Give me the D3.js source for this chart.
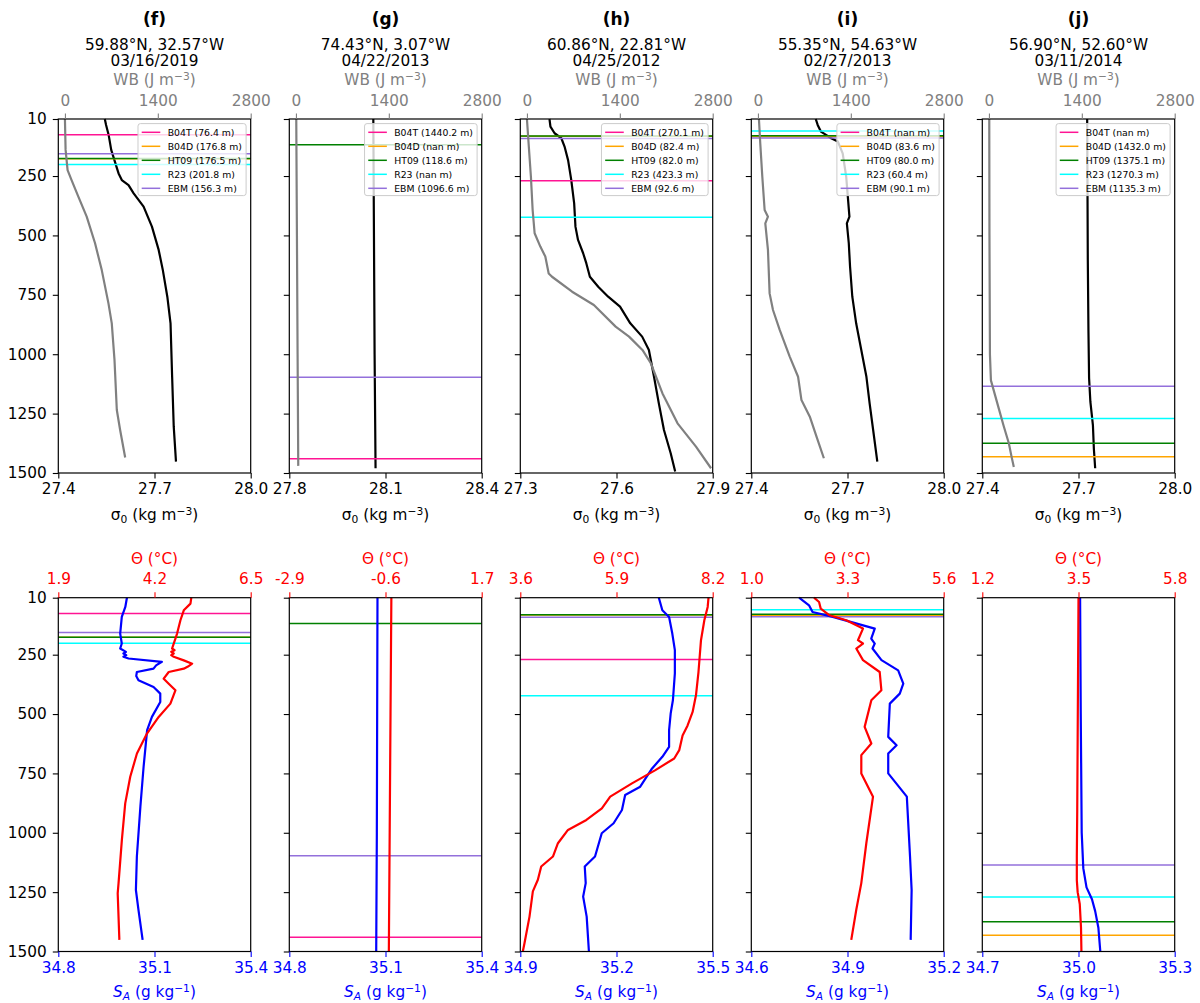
<!DOCTYPE html>
<html>
<head>
<meta charset="utf-8">
<script src="https://cdn.jsdelivr.net/npm/d3@7"></script>
<style>
  body { margin: 0; background: #fff; }
  svg { display: block; }
</style>
</head>
<body>
<script>
// ---- data ----
const panelTags = ["(f)", "(g)", "(h)", "(i)", "(j)"];
const locations = ["59.88°N, 32.57°W", "74.43°N, 3.07°W", "60.86°N, 22.81°W", "55.35°N, 54.63°W", "56.90°N, 52.60°W"];
const dates = ["03/16/2019", "04/22/2013", "04/25/2012", "02/27/2013", "03/11/2014"];

const sigmaLims = [[27.4, 28.0], [27.8, 28.4], [27.3, 27.9], [27.4, 28.0], [27.4, 28.0]];
const thetaLims = [[1.9, 6.5], [-2.9, 1.7], [3.6, 8.2], [1.0, 5.6], [1.2, 5.8]];
const saLims = [[34.8, 35.4], [34.8, 35.4], [34.9, 35.5], [34.6, 35.2], [34.7, 35.3]];
const wbLims = [-100, 2800];
const wbTicks = [0, 1400, 2800];
const depthTicks = [10, 250, 500, 750, 1000, 1250, 1500];

const mldMethods = ["B04T", "B04D", "HT09", "R23", "EBM"];
const mldColors = ["#ff1493", "#ffa500", "#008000", "#00ffff", "#9370db"];
// null = nan
const mldDepths = [
  [76.4, 176.8, 176.5, 201.8, 156.3],
  [1440.2, null, 118.6, null, 1096.6],
  [270.1, 82.4, 82.0, 423.3, 92.6],
  [null, 83.6, 80.0, 60.4, 90.1],
  [null, 1432.0, 1375.1, 1270.3, 1135.3]
];

// profiles: [depth (m), value]
const sigmaF = [[10,27.545],[35,27.549],[77,27.557],[140,27.565],[183,27.575],[218,27.583],[239,27.588],[267,27.598],[288,27.619],[323,27.635],[379,27.666],[463,27.692],[561,27.713],[646,27.726],[758,27.740],[870,27.750],[1095,27.755],[1305,27.760],[1452,27.767]];
const sigmaG = [[10,28.062],[500,28.064],[1000,28.066],[1480,28.069]];
const sigmaH = [[10,27.391],[42,27.394],[70,27.407],[91,27.428],[126,27.438],[183,27.449],[267,27.459],[365,27.468],[463,27.472],[519,27.480],[575,27.496],[618,27.506],[674,27.517],[716,27.543],[758,27.574],[800,27.611],[870,27.643],[926,27.680],[982,27.701],[1095,27.717],[1207,27.732],[1319,27.748],[1417,27.769],[1494,27.783]];
const sigmaI = [[10,27.601],[35,27.607],[63,27.617],[77,27.633],[91,27.649],[105,27.670],[155,27.685],[253,27.696],[337,27.701],[421,27.706],[449,27.698],[533,27.704],[632,27.708],[758,27.715],[870,27.727],[982,27.743],[1095,27.759],[1207,27.769],[1319,27.780],[1452,27.793]];
const sigmaJ = [[10,27.727],[300,27.728],[600,27.729],[900,27.731],[1100,27.733],[1200,27.737],[1300,27.745],[1400,27.748],[1480,27.752]];

const wbF = [[10,0],[140,10],[225,40],[267,100],[337,202],[421,328],[533,454],[646,555],[786,656],[870,706],[1024,747],[1235,782],[1319,832],[1435,908]];
const wbG = [[10,5],[500,15],[1000,25],[1470,35]];
const wbH = [[10,0],[112,25],[253,60],[393,86],[491,116],[547,202],[589,277],[660,328],[674,378],[737,681],[793,1009],[884,1337],[926,1539],[982,1741],[1038,1867],[1165,2043],[1291,2270],[1389,2548],[1480,2775]];
const wbI = [[10,15],[112,35],[253,66],[393,101],[421,151],[449,111],[561,151],[744,176],[814,227],[898,328],[1010,479],[1095,605],[1193,656],[1263,782],[1347,883],[1438,994]];
const wbJ = [[10,5],[500,8],[1000,15],[1110,30],[1230,150],[1300,220],[1375,300],[1430,340],[1475,375]];

const thetaF = [[10,5.08],[35,5.06],[63,4.90],[105,4.82],[161,4.74],[203,4.66],[224,4.62],[231,4.68],[238,4.60],[245,4.66],[252,4.60],[259,4.66],[274,4.90],[288,5.10],[300,5.00],[309,4.90],[323,4.54],[351,4.42],[372,4.54],[400,4.70],[456,4.58],[512,4.30],[582,4.02],[666,3.78],[764,3.62],[876,3.50],[1030,3.42],[1213,3.34],[1255,3.32],[1451,3.36]];
const saF = [[10,35.014],[49,35.009],[91,34.998],[161,34.993],[203,34.998],[224,34.993],[238,35.011],[245,35.003],[252,35.012],[259,35.003],[266,35.019],[280,35.123],[295,35.105],[309,35.097],[323,35.045],[340,35.043],[358,35.050],[386,35.097],[414,35.118],[449,35.118],[512,35.092],[568,35.077],[722,35.066],[890,35.056],[1100,35.045],[1241,35.042],[1325,35.050],[1451,35.063]];
const thetaG = [[10,-0.46],[500,-0.48],[1000,-0.50],[1500,-0.52]];
const saG = [[10,35.075],[500,35.074],[1000,35.073],[1500,35.071]];
const thetaH = [[10,8.10],[49,8.08],[105,8.00],[189,7.92],[323,7.86],[421,7.80],[491,7.72],[548,7.60],[590,7.48],[652,7.40],[687,7.28],[736,6.83],[792,6.27],[848,5.75],[897,5.55],[946,5.18],[988,4.74],[1044,4.50],[1100,4.38],[1142,4.10],[1198,4.02],[1247,3.90],[1353,3.82],[1465,3.70],[1500,3.66]];
const saH = [[10,35.332],[63,35.343],[91,35.364],[161,35.374],[231,35.382],[329,35.382],[441,35.376],[497,35.369],[568,35.364],[638,35.364],[680,35.343],[729,35.311],[806,35.274],[841,35.227],[904,35.217],[960,35.191],[1002,35.154],[1100,35.133],[1142,35.101],[1212,35.104],[1269,35.096],[1353,35.107],[1500,35.114]];
const thetaI = [[10,2.50],[28,2.62],[56,2.66],[84,2.87],[105,3.27],[140,3.67],[189,3.55],[203,3.67],[224,3.51],[273,3.67],[323,4.07],[400,4.11],[442,3.87],[554,3.71],[624,3.87],[673,3.63],[750,3.63],[848,3.91],[1044,3.75],[1212,3.63],[1324,3.51],[1451,3.39]];
const saI = [[10,34.749],[42,34.780],[70,34.791],[91,34.854],[140,34.985],[182,34.974],[203,34.985],[224,34.978],[273,35.006],[316,35.058],[372,35.074],[414,35.063],[456,35.032],[596,35.027],[631,35.053],[666,35.027],[750,35.027],[848,35.085],[1100,35.095],[1241,35.100],[1451,35.097]];
const thetaJ = [[10,3.50],[300,3.49],[600,3.48],[900,3.47],[1100,3.46],[1200,3.46],[1250,3.48],[1300,3.53],[1400,3.56],[1500,3.57]];
const saJ = [[10,35.005],[500,35.007],[1000,35.010],[1150,35.015],[1230,35.025],[1280,35.042],[1330,35.052],[1400,35.062],[1500,35.068]];

const sigmaProfiles = [sigmaF, sigmaG, sigmaH, sigmaI, sigmaJ];
const wbProfiles = [wbF, wbG, wbH, wbI, wbJ];
const thetaProfiles = [thetaF, thetaG, thetaH, thetaI, thetaJ];
const saProfiles = [saF, saG, saH, saI, saJ];

// ---- layout ----
const FONT = "'DejaVu Sans', 'Liberation Sans', sans-serif";
const FS = 15.3;
const colX = [58.3, 289.3, 520.3, 751.3, 982.3];
const pw = 192.4;
const rowTop = [119, 597.7];
const rowBottom = [473, 951.5];
const TICK = 5.5;

const svg = d3.select("body").append("svg")
  .attr("width", 1200).attr("height", 1003)
  .style("font-family", FONT);

const fmt1 = v => v.toFixed(1);

function rich(sel, parts, size) {
  let shift = 0;
  parts.forEach(p => {
    const target = p.s === "sup" ? -0.33 * size : p.s === "sub" ? 0.2 * size : 0;
    const ts = sel.append("tspan").attr("dy", target - shift).text(p.t);
    if (p.s) ts.attr("font-size", size * 0.7);
    if (p.i) ts.attr("font-style", "italic");
    shift = target;
  });
}

function styleAxis(g, color) {
  g.attr("font-family", FONT).attr("font-size", FS);
  g.select(".domain").remove();
  g.selectAll(".tick line").attr("stroke", color).attr("stroke-width", 1.1);
  g.selectAll(".tick text").attr("fill", color);
}

function drawMLD(g, i, x0, x1, y) {
  mldDepths[i].forEach((d, k) => {
    if (d == null) return;
    g.append("line")
      .attr("x1", x0).attr("x2", x1)
      .attr("y1", y(d)).attr("y2", y(d))
      .attr("stroke", mldColors[k]).attr("stroke-width", 1.5);
  });
}

function drawLegend(g, i, x1, top) {
  const fs = 9.3;
  const lg = g.append("g");
  const box = lg.append("rect");
  let maxW = 0;
  mldMethods.forEach((m, k) => {
    const cy = 8.7 + k * 14;
    lg.append("line")
      .attr("x1", 3.7).attr("x2", 22.3)
      .attr("y1", cy).attr("y2", cy)
      .attr("stroke", mldColors[k]).attr("stroke-width", 1.5);
    const v = mldDepths[i][k];
    const t = lg.append("text")
      .attr("x", 29.7).attr("y", cy + fs * 0.36)
      .attr("font-size", fs)
      .attr("fill", "#000")
      .text(`${m} (${v == null ? "nan" : fmt1(v)} m)`);
    maxW = Math.max(maxW, t.node().getComputedTextLength());
  });
  const bw = 29.7 + maxW + 4.2;
  box.attr("x", 0).attr("y", 0).attr("width", bw).attr("height", 72)
    .attr("rx", 2.5)
    .attr("fill", "#fff").attr("fill-opacity", 0.8)
    .attr("stroke", "#cccccc").attr("stroke-width", 1);
  lg.attr("transform", `translate(${x1 - 4.6 - bw},${top + 4.6})`);
}

function frame(g, x0, x1, top, bottom) {
  g.append("rect")
    .attr("x", x0).attr("y", top)
    .attr("width", x1 - x0).attr("height", bottom - top)
    .attr("fill", "none").attr("stroke", "#000").attr("stroke-width", 1.2);
}

const line = (xs, ys) => d3.line().x(d => xs(d[1])).y(d => ys(d[0]));

for (let i = 0; i < 5; i++) {
  const x0 = colX[i], x1 = x0 + pw;
  const xm = (x0 + x1) / 2;

  // titles
  svg.append("text").attr("x", xm).attr("y", 24.5).attr("text-anchor", "middle")
    .attr("font-size", 17).attr("font-weight", "bold").text(panelTags[i]);
  svg.append("text").attr("x", xm).attr("y", 49.5).attr("text-anchor", "middle")
    .attr("font-size", FS).text(locations[i]);
  svg.append("text").attr("x", xm).attr("y", 66).attr("text-anchor", "middle")
    .attr("font-size", FS).text(dates[i]);

  // ===== top row: sigma0 and WB =====
  const top = rowTop[0], bottom = rowBottom[0];
  const yT = d3.scaleLinear().domain([10, 1500]).range([top, bottom]);
  const xS = d3.scaleLinear().domain(sigmaLims[i]).range([x0, x1]);
  const xW = d3.scaleLinear().domain(wbLims).range([x0, x1]);
  const gT = svg.append("g");

  gT.append("path").datum(sigmaProfiles[i])
    .attr("d", line(xS, yT))
    .attr("fill", "none").attr("stroke", "#000").attr("stroke-width", 2.2)
    .attr("stroke-linejoin", "round");
  drawMLD(gT, i, x0, x1, yT);
  drawLegend(gT, i, x1, top);
  gT.append("path").datum(wbProfiles[i])
    .attr("d", line(xW, yT))
    .attr("fill", "none").attr("stroke", "#808080").attr("stroke-width", 2.2)
    .attr("stroke-linejoin", "round");
  frame(gT, x0, x1, top, bottom);

  const sTicks = [sigmaLims[i][0], (sigmaLims[i][0] + sigmaLims[i][1]) / 2, sigmaLims[i][1]];
  gT.append("g").attr("transform", `translate(0,${bottom})`)
    .call(d3.axisBottom(xS).tickValues(sTicks).tickFormat(fmt1).tickSize(TICK).tickPadding(5))
    .call(g => styleAxis(g, "#000"));
  gT.append("g").attr("transform", `translate(0,${top})`)
    .call(d3.axisTop(xW).tickValues(wbTicks).tickFormat(d3.format("d")).tickSize(TICK).tickPadding(7.5))
    .call(g => styleAxis(g, "#808080"));
  gT.append("g").attr("transform", `translate(${x0},0)`)
    .call(d3.axisLeft(yT).tickValues(depthTicks).tickFormat(i === 0 ? d3.format("d") : () => "").tickSize(TICK).tickPadding(6))
    .call(g => styleAxis(g, "#000"));

  const wbLab = svg.append("text").attr("x", xm).attr("y", 85).attr("text-anchor", "middle")
    .attr("font-size", FS).attr("fill", "#808080");
  rich(wbLab, [{t: "WB (J m"}, {t: "−3", s: "sup"}, {t: ")"}], FS);
  const sgLab = svg.append("text").attr("x", xm).attr("y", 520).attr("text-anchor", "middle")
    .attr("font-size", FS).attr("fill", "#000");
  rich(sgLab, [{t: "σ"}, {t: "0", s: "sub"}, {t: " (kg m"}, {t: "−3", s: "sup"}, {t: ")"}], FS);

  // ===== bottom row: SA and Theta =====
  const top2 = rowTop[1], bottom2 = rowBottom[1];
  const yB = d3.scaleLinear().domain([10, 1500]).range([top2, bottom2]);
  const xA = d3.scaleLinear().domain(saLims[i]).range([x0, x1]);
  const xT = d3.scaleLinear().domain(thetaLims[i]).range([x0, x1]);
  const gB = svg.append("g");

  drawMLD(gB, i, x0, x1, yB);
  gB.append("path").datum(saProfiles[i])
    .attr("d", line(xA, yB))
    .attr("fill", "none").attr("stroke", "#0000ff").attr("stroke-width", 2.2)
    .attr("stroke-linejoin", "round");
  gB.append("path").datum(thetaProfiles[i])
    .attr("d", line(xT, yB))
    .attr("fill", "none").attr("stroke", "#ff0000").attr("stroke-width", 2.2)
    .attr("stroke-linejoin", "round");
  frame(gB, x0, x1, top2, bottom2);

  const aTicks = [saLims[i][0], (saLims[i][0] + saLims[i][1]) / 2, saLims[i][1]];
  const tTicks = [thetaLims[i][0], (thetaLims[i][0] + thetaLims[i][1]) / 2, thetaLims[i][1]];
  gB.append("g").attr("transform", `translate(0,${bottom2})`)
    .call(d3.axisBottom(xA).tickValues(aTicks).tickFormat(fmt1).tickSize(TICK).tickPadding(5))
    .call(g => styleAxis(g, "#0000ff"));
  gB.append("g").attr("transform", `translate(0,${top2})`)
    .call(d3.axisTop(xT).tickValues(tTicks).tickFormat(fmt1).tickSize(TICK).tickPadding(8.5))
    .call(g => styleAxis(g, "#ff0000"));
  gB.append("g").attr("transform", `translate(${x0},0)`)
    .call(d3.axisLeft(yB).tickValues(depthTicks).tickFormat(i === 0 ? d3.format("d") : () => "").tickSize(TICK).tickPadding(6))
    .call(g => styleAxis(g, "#000"));

  svg.append("text").attr("x", xm).attr("y", 564).attr("text-anchor", "middle")
    .attr("font-size", FS).attr("fill", "#ff0000").text("Θ (°C)");
  const saLab = svg.append("text").attr("x", xm).attr("y", 997).attr("text-anchor", "middle")
    .attr("font-size", FS).attr("fill", "#0000ff");
  rich(saLab, [{t: "S", i: true}, {t: "A", s: "sub", i: true}, {t: " (g kg"}, {t: "−1", s: "sup"}, {t: ")"}], FS);
}
</script>
</body>
</html>
